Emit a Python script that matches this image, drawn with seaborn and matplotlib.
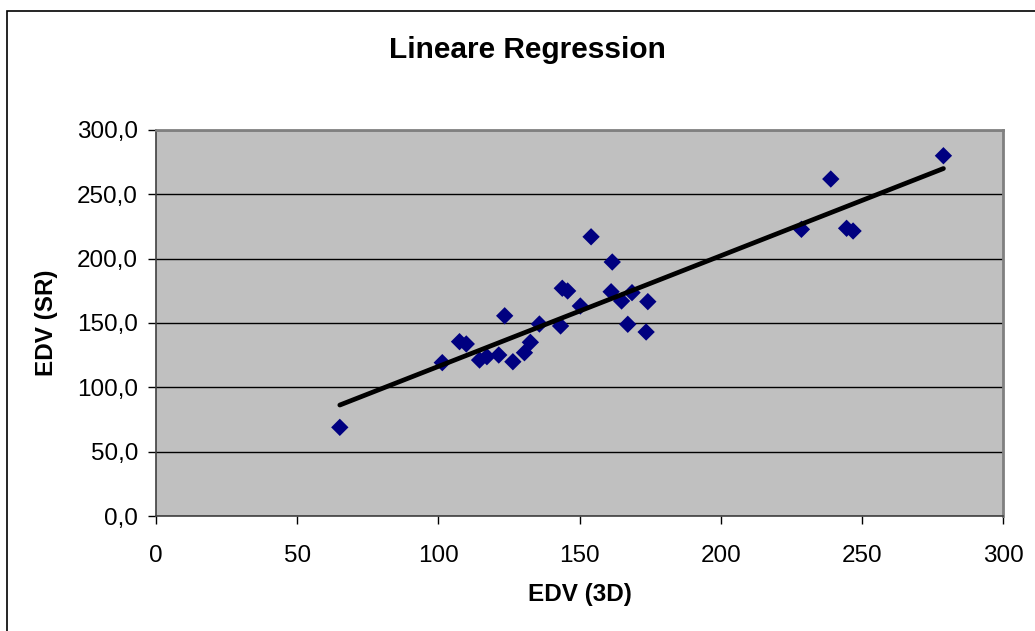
import matplotlib
matplotlib.use("Agg")
import matplotlib.pyplot as plt
import seaborn as sns
import numpy as np
import pandas as pd
from matplotlib.ticker import FuncFormatter, FixedLocator
from matplotlib.patches import Rectangle

# EDV measured by 3D echo vs. SR method
edv_3d = [65.1, 101.4, 107.5, 109.9, 114.6, 117.2, 121.4, 123.5, 126.4, 130.5,
          132.6, 135.8, 143.3, 143.9, 145.8, 150.3, 154.1, 161.6, 161.2, 164.9,
          168.6, 167.1, 174.2, 173.6, 228.6, 239.0, 244.6, 246.9, 278.9]
edv_sr = [68.9, 119.2, 135.5, 133.7, 121.2, 123.8, 125.1, 155.6, 119.9, 126.9,
          135.0, 149.2, 147.7, 177.0, 174.9, 163.2, 217.0, 197.4, 174.3, 167.1,
          173.6, 149.0, 166.6, 143.0, 222.8, 261.9, 223.6, 221.5, 280.0]

x_ticks = [0, 50, 100, 150, 200, 250, 300]
y_ticks = [0, 50, 100, 150, 200, 250, 300]

df = pd.DataFrame({"EDV (3D)": edv_3d, "EDV (SR)": edv_sr})

sns.set_theme(style="white")
plt.rcParams["font.family"] = ["Liberation Sans", "DejaVu Sans"]
plt.rcParams["text.color"] = "black"

W, H = 1035, 631
fig = plt.figure(figsize=(W / 100, H / 100), dpi=100)
ax = fig.add_axes([156 / W, 1 - 516 / H, (1003 - 156) / W, (516 - 130) / H])
ax.set_facecolor("#C0C0C0")

# chart frame (left and top edges visible)
fig.add_artist(Rectangle((7 / W, -0.05), 1.1, 1 - 11 / H + 0.05,
                         transform=fig.transFigure, fill=False,
                         edgecolor="black", linewidth=1.2))

ax.yaxis.grid(True, color="black", linewidth=1.0)
ax.set_axisbelow(True)

sns.regplot(data=df, x="EDV (3D)", y="EDV (SR)", ax=ax, ci=None, truncate=True,
            marker="D",
            scatter_kws=dict(s=78, color="#000080", edgecolors="none",
                             alpha=1.0, zorder=3),
            line_kws=dict(color="black", linewidth=3.4, zorder=4))

ax.set_xlim(0, 300)
ax.set_ylim(0, 300)
ax.xaxis.set_major_locator(FixedLocator(x_ticks))
ax.yaxis.set_major_locator(FixedLocator(y_ticks))
ax.xaxis.set_major_formatter(FuncFormatter(lambda v, p: f"{v:.0f}"))
ax.yaxis.set_major_formatter(FuncFormatter(lambda v, p: f"{v:.1f}".replace(".", ",")))

ax.tick_params(axis="both", which="major", labelsize=17.5, colors="black",
               labelcolor="black", length=6, width=1.0, direction="out")
ax.tick_params(axis="x", pad=15, bottom=True)
ax.tick_params(axis="y", pad=7, left=True)

for side in ("left", "bottom"):
    ax.spines[side].set_color("#404040")
    ax.spines[side].set_linewidth(1.2)
for side in ("top", "right"):
    ax.spines[side].set_color("#808080")
    ax.spines[side].set_linewidth(2.0)

ax.set_xlabel("")
ax.set_ylabel("")
fig.text(580 / W, 1 - 594 / H, "EDV (3D)", ha="center", va="center",
         fontsize=17.5, fontweight="bold", color="black")
fig.text(47 / W, 1 - 323 / H, "EDV (SR)", ha="center", va="center",
         rotation=90, fontsize=17.5, fontweight="bold", color="black")
fig.text(527 / W, 1 - 50 / H, "Lineare Regression", ha="center", va="center",
         fontsize=21.5, fontweight="bold", color="black")

fig.savefig("out.png", dpi=100)
